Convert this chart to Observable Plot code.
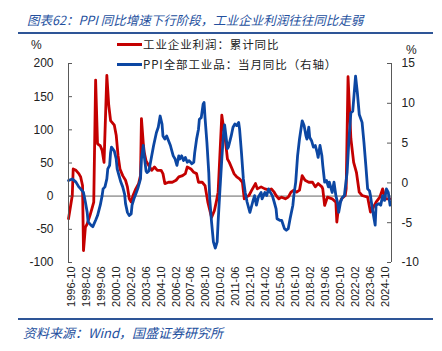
<!DOCTYPE html>
<html>
<head>
<meta charset="utf-8">
<script src="https://cdn.jsdelivr.net/npm/d3@7"></script>
<script src="https://cdn.jsdelivr.net/npm/@observablehq/plot@0.6"></script>
<style>
  body { margin: 0; background: #fff; }
  #wrap { position: relative; width: 442px; height: 351px; overflow: hidden; background: #fff;
          font-family: "Noto Sans CJK SC", sans-serif; }
  .title { position: absolute; left: 27px; top: 13px; font-size: 12.5px; line-height: 14px;
           font-style: italic; color: #24509e; white-space: nowrap; }
  .rule { position: absolute; left: 18px; width: 415px; height: 2px; background: #2e5597; }
  .caption { position: absolute; left: 23px; top: 326px; font-size: 13px; line-height: 14px;
             font-style: italic; color: #24509e; white-space: nowrap; }
  .leg { position: absolute; left: 117px; height: 14px; display: flex; align-items: center;
         font-size: 11.5px; letter-spacing: 0.9px; color: #222; white-space: nowrap; }
  .leg .sw { width: 25px; height: 3px; margin-right: 1px; }
  .pct { position: absolute; font-family: "Liberation Sans", Arial, sans-serif; font-size: 12px; color: #222; }
  #chart { position: absolute; left: 0; top: 0; }
</style>
</head>
<body>
<div id="wrap">
  <div class="title">图表62：PPI 同比增速下行阶段，工业企业利润往往同比走弱</div>
  <div class="rule" style="top:32px"></div>
  <div id="chart"></div>
  <div class="pct" style="left:31px; top:38px;">%</div>
  <div class="pct" style="left:406px; top:43px;">%</div>
  <div id="legend"></div>
  <div class="rule" style="top:318px"></div>
  <div class="caption">资料来源：Wind，国盛证券研究所</div>
</div>
<script>
// ---- data ----
const seriesNames = ["工业企业利润：累计同比", "PPI全部工业品：当月同比（右轴）"];
const seriesColors = ["#c40000", "#0c47a3"];

const profitDates = ["1996-07","1996-11","1996-12","1997-03","1997-06","1997-08","1997-10","1997-11","1998-01","1998-03","1998-06","1998-08","1998-10","1998-12","1999-02","1999-05","1999-07","1999-09","1999-12","2000-02","2000-04","2000-08","2000-10","2000-12","2001-02","2001-05","2001-08","2001-10","2001-12","2002-02","2002-04","2002-07","2002-10","2002-12","2003-01","2003-03","2003-04","2003-06","2003-09","2003-12","2004-03","2004-06","2004-10","2004-12","2005-02","2005-06","2005-10","2006-02","2006-05","2006-09","2006-12","2007-02","2007-06","2007-09","2007-12","2008-02","2008-06","2008-09","2008-12","2009-04","2009-07","2009-09","2009-11","2010-03","2010-07","2010-09","2010-11","2011-02","2011-04","2011-07","2011-10","2012-01","2012-03","2012-05","2012-08","2012-11","2013-03","2013-05","2013-09","2014-01","2014-06","2014-08","2014-11","2015-01","2015-04","2015-07","2015-11","2016-02","2016-05","2016-08","2016-11","2017-02","2017-05","2017-08","2017-12","2018-04","2018-07","2018-10","2019-02","2019-03","2019-05","2019-08","2020-01","2020-05","2020-06","2020-08","2020-11","2021-03","2021-04","2021-06","2021-09","2021-12","2022-03","2022-06","2022-09","2023-03","2023-06","2023-09","2023-12","2024-04","2024-07","2024-10","2025-03"];
const profitValues = [-34,1,41,39,34,29,16,-82,-47,-42,-29,-19,-9,175,79,76,69,51,182,137,114,107,92,61,41,31,24,14,-4,-9,1,11,19,31,117,80,66,53,46,39,44,39,39,34,19,21,21,24,29,31,34,44,41,36,34,21,21,16,-9,-32,-22,-9,6,122,82,56,51,41,34,29,26,21,-4,-1.5,1,9,19,11,14,11,9,11,6,1,-4,-1.5,-4,-1.5,6,9,6,9,31,24,21,21,14,19,14,11,-14,-1.5,-4,-9,-39,-14,-4,1,11,180,87,51,36,6,1,-1.5,-24,-17,-9,-1.5,11,-4,-4];

const ppiDates = ["1996-07","1996-11","1997-03","1997-06","1997-08","1997-11","1998-01","1998-03","1998-04","1998-07","1998-09","1998-12","1999-02","1999-05","1999-07","1999-08","1999-10","1999-12","2000-01","2000-03","2000-04","2000-05","2000-08","2000-10","2000-11","2001-01","2001-03","2001-05","2001-07","2001-08","2001-10","2001-12","2002-02","2002-03","2002-05","2002-07","2002-09","2002-12","2003-01","2003-03","2003-04","2003-06","2003-07","2003-09","2003-12","2004-02","2004-05","2004-07","2004-09","2004-11","2004-12","2005-02","2005-04","2005-06","2005-08","2005-09","2005-11","2006-01","2006-03","2006-05","2006-06","2006-08","2006-10","2006-12","2007-02","2007-04","2007-07","2007-09","2007-10","2007-12","2008-02","2008-03","2008-05","2008-07","2008-08","2008-09","2008-11","2009-01","2009-02","2009-04","2009-06","2009-08","2009-10","2009-11","2010-01","2010-03","2010-05","2010-06","2010-09","2010-10","2011-01","2011-03","2011-05","2011-07","2011-09","2011-10","2011-12","2012-02","2012-04","2012-06","2012-09","2012-12","2013-02","2013-04","2013-06","2013-09","2013-10","2014-01","2014-03","2014-05","2014-07","2014-09","2014-11","2015-01","2015-02","2015-05","2015-07","2015-10","2015-12","2016-02","2016-04","2016-07","2016-08","2016-10","2016-12","2017-02","2017-05","2017-07","2017-09","2017-10","2017-12","2018-01","2018-03","2018-05","2018-07","2018-09","2018-10","2018-12","2019-02","2019-03","2019-05","2019-07","2019-09","2019-10","2020-01","2020-03","2020-05","2020-07","2020-08","2020-10","2020-12","2021-02","2021-05","2021-07","2021-09","2021-11","2022-02","2022-04","2022-06","2022-09","2022-11","2023-01","2023-03","2023-05","2023-06","2023-08","2023-11","2023-12","2024-03","2024-05","2024-07","2024-09","2024-11","2025-01","2025-03"];
const ppiValues = [0.3,0.5,0.1,-0.5,-0.75,-1.2,-2.4,-3.7,-4.9,-5.3,-5.5,-4.7,-4.1,-2.8,-1.6,-0.75,-0.5,0.5,1.75,2.2,3.8,4.5,4,3,1.75,0.9,0.1,-0.5,-1.4,-2.6,-3.7,-4.1,-3.9,-2.8,-2,-1.4,-0.75,0.5,3,4.7,3.4,1.5,1.3,1.5,3.4,4.7,6.3,7,8.4,7.4,5.9,5.5,5.9,5.3,4.7,4.25,3.4,3,2.2,3.4,3,3.4,2.8,3.2,2.6,2.8,2.4,2.6,3.8,5.5,6.75,8,8.2,9.9,10.1,8.2,5.1,1.3,-2,-4.9,-7.4,-8.2,-7.4,-4.9,-0.75,3,6.5,7.3,4.3,4.5,5.9,7,7.4,7.2,7.6,6.75,3.8,0.5,-1.2,-2.4,-3.7,-2.4,-1.6,-2.8,-1.8,-1.2,-2,-1.2,-1.6,-0.75,-1.2,-1.6,-2.4,-3.25,-4.5,-4.7,-4.7,-5.75,-5.95,-5.75,-4.5,-2.8,-1.6,0.1,3.4,5.5,7.8,7.2,5.9,5.5,7,5.7,5.3,4.5,4.7,3.8,3.2,4.7,3.4,2.2,0.1,0.3,-0.5,0.1,-1.2,0.1,-1.6,-2.6,-3.7,-2.4,-1.8,-1.6,1.3,5.5,8.8,9,13.4,11.3,8.6,7.6,5.1,2.2,-0.75,-1,-1.6,-3.25,-5.3,-2.8,-2.6,-2.8,-1.6,-2.2,-0.75,-1.2,-2.8];

const xTickLabels = ["1996-10","1998-02","1999-06","2000-10","2002-02","2003-06","2004-10","2006-02","2007-06","2008-10","2010-02","2011-06","2012-10","2014-02","2015-06","2016-10","2018-02","2019-06","2020-10","2022-02","2023-06","2024-10"];
const leftTicks = [200, 150, 100, 50, 0, -50, -100];
const rightTicks = [15, 10, 5, 0, -5, -10];
const xStart = "1996-07";
const xEnd = "2025-04-16";

// ---- build ----
const parseM = d3.utcParse("%Y-%m");
const profit = profitDates.map((d, i) => ({date: parseM(d), value: profitValues[i]}));
const ppi = ppiDates.map((d, i) => ({date: parseM(d), value: ppiValues[i]}));
// right axis [-10, 15] mapped onto the left axis [-100, 200]
const toLeft = v => -100 + (v - (-10)) * 300 / 25;
const fromLeft = y => (y + 100) * 25 / 300 - 10;

const W = 442, H = 320, ML = 68, MR = 51, MT = 63, MB = 58;
const plotW = W - ML - MR;
const x0 = parseM(xStart), x1 = d3.utcParse("%Y-%m-%d")(xEnd);
const axisColor = "#595959";

const chart = Plot.plot({
  width: W, height: H,
  marginLeft: ML, marginRight: MR, marginTop: MT, marginBottom: MB,
  style: {fontFamily: "'Liberation Sans', Arial, sans-serif", fontSize: "12px", color: "#222", background: "transparent"},
  x: {type: "utc", domain: [x0, x1], label: null},
  y: {domain: [-100, 200], label: null},
  marks: [
    Plot.ruleY([0], {stroke: "#a6a6a6", strokeWidth: 1.6}),
    Plot.line(profit, {x: "date", y: "value", stroke: seriesColors[0], strokeWidth: 2.8, strokeLinejoin: "round"}),
    Plot.line(ppi, {x: "date", y: d => toLeft(d.value), stroke: seriesColors[1], strokeWidth: 2.8, strokeLinejoin: "round"}),
    Plot.ruleX([x0], {stroke: axisColor, strokeWidth: 1}),
    Plot.ruleX([x1], {stroke: axisColor, strokeWidth: 1}),
    Plot.ruleY(leftTicks, {stroke: axisColor, insetRight: plotW - 4}),
    Plot.ruleY(rightTicks.map(toLeft), {stroke: axisColor, insetLeft: plotW - 4}),
    Plot.axisY(leftTicks, {anchor: "left", tickSize: 0, tickPadding: 15, fontSize: 12, label: null,
      tickFormat: d => String(d)}),
    Plot.axisY(rightTicks.map(toLeft), {anchor: "right", tickSize: 0, tickPadding: 10, fontSize: 12, label: null,
      tickFormat: d => String(Math.round(fromLeft(d)))}),
    Plot.axisX(xTickLabels.map(parseM), {anchor: "bottom", tickSize: 0, tickPadding: 4, tickRotate: -90,
      fontSize: 11, label: null, tickFormat: d3.utcFormat("%Y-%m")})
  ]
});
document.getElementById("chart").appendChild(chart);

// legend
const legend = document.getElementById("legend");
const legendTops = [37, 57];
seriesNames.forEach((name, i) => {
  const row = document.createElement("div");
  row.className = "leg";
  row.style.top = legendTops[i] + "px";
  const sw = document.createElement("span");
  sw.className = "sw";
  sw.style.background = seriesColors[i];
  const t = document.createElement("span");
  t.textContent = name;
  row.appendChild(sw);
  row.appendChild(t);
  legend.appendChild(row);
});
</script>
</body>
</html>
